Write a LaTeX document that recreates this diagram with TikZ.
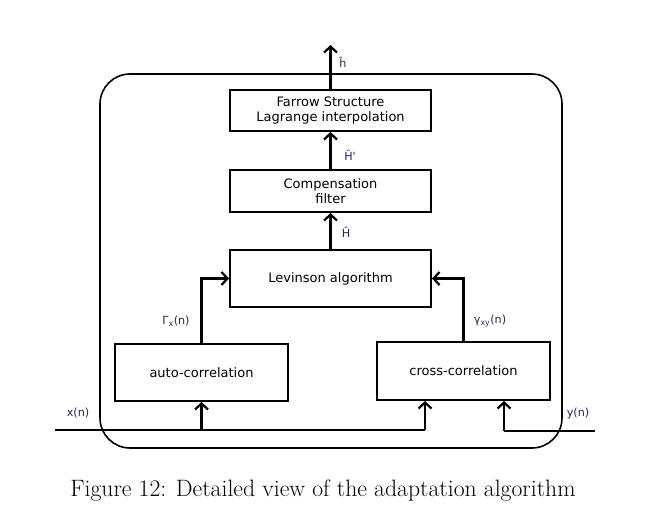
\documentclass[tikz,border=0pt]{standalone}
\usepackage{fontspec}
\setsansfont{DejaVu Sans}
\newfontfamily\lblfont{DejaVu Sans}
\usetikzlibrary{arrows.meta}
\definecolor{lblcol}{RGB}{35,40,80}
\tikzset{
  blk/.style={draw, line width=2pt, inner sep=0pt, align=center,
    font=\sffamily\fontsize{13}{15.5}\selectfont},
  arr/.style={line width=2.2pt, -{Straight Barb[length=6pt,width=13pt,line width=2.2pt]}},
  ln/.style={line width=2.2pt},
  lbl/.style={font=\lblfont\fontsize{11.2}{13}\selectfont, text=lblcol, inner sep=0pt}
}
\begin{document}
\begin{tikzpicture}[x=1pt,y=-1pt]
\useasboundingbox (0,0) rectangle (656,513);
\draw[line width=1.6pt, rounded corners=30pt] (100,74) rectangle (562,448);
\node[blk, minimum width=201pt, minimum height=41pt] (far) at (330.5,110.5) {Farrow Structure\\Lagrange interpolation};
\node[blk, minimum width=201pt, minimum height=42pt] (comp) at (330.5,191) {Compensation\\filter};
\node[blk, minimum width=201pt, minimum height=57pt] (lev) at (330.5,278.5) {Levinson algorithm};
\node[blk, minimum width=173pt, minimum height=57pt] (auto) at (201.5,372.5) {auto-correlation};
\node[blk, minimum width=173pt, minimum height=58pt] (cross) at (463.5,371) {cross-correlation};
\coordinate (top) at (330.5,45);
\coordinate (xin) at (55,430);
\coordinate (xend) at (425,430);
\coordinate (yin) at (595,431);
\coordinate (ycorner) at (504,431);
\draw[arr] (far.north) -- (top);
\draw[arr] (comp.north) -- (far.south);
\draw[arr] (lev.north) -- (comp.south);
\draw[arr] (auto.north) |- (lev.west);
\draw[arr] (cross.north) |- (lev.east);
\draw[ln] (xin) -- (xend);
\draw[arr] (xend) -- (xend |- cross.south);
\draw[arr] (auto.south |- xin) -- (auto.south);
\draw[ln] (yin) -- (ycorner);
\draw[arr] (ycorner) -- (ycorner |- cross.south);
\node[lbl] (lh) at (343,62) {ĥ};
\node[lbl] (lH1) at (350,155) {Ĥ'};
\node[lbl] (lH) at (346,232) {Ĥ};
\node[lbl] (lg) at (176,321) {Γ\textsubscript{x}(n)};
\node[lbl] (lgxy) at (490,321) {γ\textsubscript{xy}(n)};
\node[lbl] (lx) at (78,413) {x(n)};
\node[lbl] (ly) at (578,413) {y(n)};
\node[font=\rmfamily\fontsize{23.7}{28}\selectfont, inner sep=0pt] (cap) at (323,491) {Figure 12: Detailed view of the adaptation algorithm};
\end{tikzpicture}
\end{document}
